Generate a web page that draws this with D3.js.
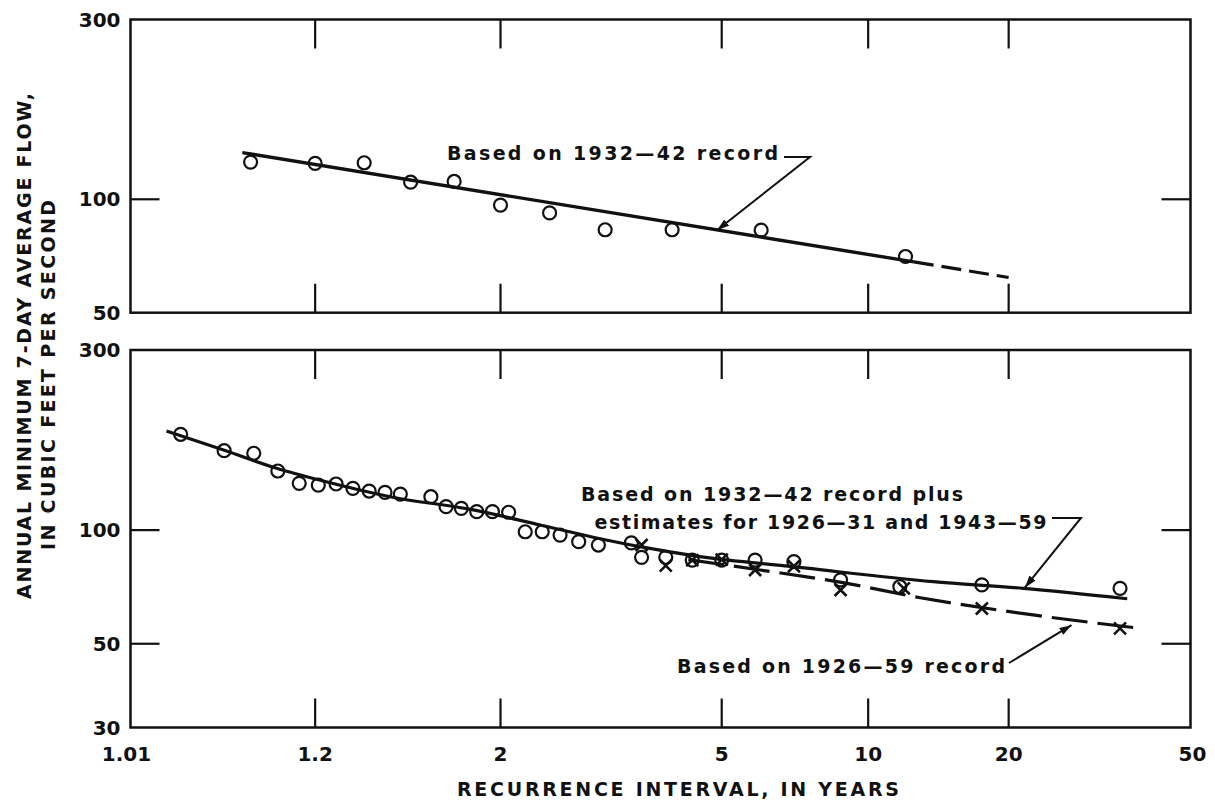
<!DOCTYPE html>
<html><head><meta charset="utf-8">
<script src="https://cdn.jsdelivr.net/npm/d3@7"></script>
<style>
html,body{margin:0;padding:0;background:#fff;}
svg{display:block;}
text{font-family:"DejaVu Sans",sans-serif;font-weight:bold;fill:#111;}
</style></head><body>
<svg id="chart" width="1215" height="802"></svg>
<script>
// ---------- DATA ----------
const xTickValues = [1.01, 1.2, 2, 5, 10, 20, 50];
const xTickLabels = ["1.01", "1.2", "2", "5", "10", "20", "50"];
const xInnerTicks = [1.2, 2, 5, 10, 20];
const topYTicks = [300, 100, 50];
const botYTicks = [300, 100, 50, 30];
const topYInner = [100];
const botYInner = [100, 50];

// Top panel: 1932-42 record
const topT = [1.09, 1.2, 1.33, 1.5, 1.71, 2, 2.4, 3, 4, 6, 12];
const topQ = [125.5, 124.5, 125, 111, 111.5, 96.5, 92, 83, 83, 82.8, 70.5];
const topFitT = [1.08, 12.5];
const topFitQ = [133, 68.2];
const topExtT = [12.5, 20];
const topExtQ = [68.2, 62];

// Bottom panel: 1932-42 record plus estimates (circles)
const botCircT = [1.029, 1.061, 1.094, 1.129, 1.167, 1.207, 1.25, 1.296, 1.346, 1.4, 1.458,
  1.591, 1.667, 1.75, 1.842, 1.944, 2.059, 2.188, 2.333, 2.5, 2.692, 2.917, 3.35, 3.5,
  3.889, 4.375, 5, 5.833, 7, 8.75, 11.67, 17.5, 35];
const botCircQ = [179.4, 162.3, 159.8, 143.4, 133, 131.6, 132.5, 129, 126.9, 125.9, 124.6,
  122.6, 115.4, 114.2, 111.9, 111.9, 111.5, 99, 99, 97, 93.2, 91.3, 92.5, 84.7,
  84.7, 83.3, 83.3, 83.3, 82.5, 73.8, 70.8, 71.6, 70.1];
// Bottom panel: 1926-59 record (crosses)
const botCrossT = [3.5, 3.889, 4.375, 5, 5.833, 7, 8.75, 11.9, 17.5, 35];
const botCrossQ = [91.3, 80.5, 83.3, 83.5, 78.4, 80.2, 69.4, 70.1, 62, 54.9];
// Fitted curves
const botFitT = [1.022, 1.0605, 1.127, 1.2186, 1.418, 1.821, 2.314, 2.94, 3.476, 4.53, 6.98, 13.75, 21.5, 36.3];
const botFitQ = [183.1, 163, 145.8, 134.9, 122.6, 113.1, 103.2, 94.9, 90.4, 85.1, 80, 73, 70.1, 65.8];
const botDashT = [4.3, 5.97, 8.73, 12.9, 22.6, 38.9];
const botDashQ = [83.5, 78.4, 72.8, 66.2, 59.6, 54.9];

// ---------- LAYOUT ----------
const plotLeft = 130.5, plotRight = 1190.5;
const topY0 = 19.5, topY1 = 312.7, botY0 = 350, botY1 = 727.5;
const tickLen = 29;
const ink = "#111";

const gumbel = T => -Math.log(-Math.log(1 - 1 / T));
const x = d3.scaleLinear().domain([gumbel(1.01), gumbel(50)]).range([plotLeft, plotRight]);
const xT = T => x(gumbel(T));
const yTop = d3.scaleLog().domain([50, 300]).range([topY1, topY0]);
const yBot = d3.scaleLog().domain([30, 300]).range([botY1, botY0]);

const svg = d3.select("#chart");
svg.append("rect").attr("width", 1215).attr("height", 802).attr("fill", "#fff");

const defs = svg.append("defs");
defs.append("marker").attr("id", "arr").attr("viewBox", "0 0 12 8")
  .attr("refX", 12).attr("refY", 4).attr("markerWidth", 12).attr("markerHeight", 8)
  .attr("markerUnits", "userSpaceOnUse").attr("orient", "auto")
  .append("path").attr("d", "M0,0 L12,4 L0,8 Z").attr("fill", ink);

function panel(y, y0, y1, yTicks, yInner) {
  const g = svg.append("g");
  g.append("rect").attr("x", plotLeft).attr("y", y0)
    .attr("width", plotRight - plotLeft).attr("height", y1 - y0)
    .attr("fill", "none").attr("stroke", ink).attr("stroke-width", 2.5);
  xInnerTicks.forEach(t => {
    g.append("line").attr("x1", xT(t)).attr("x2", xT(t)).attr("y1", y0).attr("y2", y0 + tickLen)
      .attr("stroke", ink).attr("stroke-width", 2.2);
    g.append("line").attr("x1", xT(t)).attr("x2", xT(t)).attr("y1", y1).attr("y2", y1 - tickLen)
      .attr("stroke", ink).attr("stroke-width", 2.2);
  });
  yInner.forEach(v => {
    g.append("line").attr("x1", plotLeft).attr("x2", plotLeft + tickLen).attr("y1", y(v)).attr("y2", y(v))
      .attr("stroke", ink).attr("stroke-width", 2.2);
    g.append("line").attr("x1", plotRight).attr("x2", plotRight - tickLen).attr("y1", y(v)).attr("y2", y(v))
      .attr("stroke", ink).attr("stroke-width", 2.2);
  });
  yTicks.forEach(v => {
    g.append("text").attr("x", plotLeft - 10).attr("y", y(v)).attr("dy", "0.36em")
      .attr("text-anchor", "end").attr("font-size", 20).text(v);
  });
  return g;
}

const gTop = panel(yTop, topY0, topY1, topYTicks, topYInner);
const gBot = panel(yBot, botY0, botY1, botYTicks, botYInner);

// x tick labels
xTickValues.forEach((t, i) => {
  svg.append("text").attr("x", xT(t) - (i === 0 ? 4 : (i === xTickValues.length - 1 ? -2 : 0)))
    .attr("y", 760.5).attr("text-anchor", "middle").attr("font-size", 20).text(xTickLabels[i]);
});

// axis titles
svg.append("text").attr("x", 457).attr("y", 795.5).attr("font-size", 19)
  .attr("textLength", 442).attr("lengthAdjust", "spacing")
  .text("RECURRENCE  INTERVAL, IN YEARS");
svg.append("text").attr("transform", "translate(31,346) rotate(-90)")
  .attr("text-anchor", "middle").attr("font-size", 19)
  .attr("textLength", 506).attr("lengthAdjust", "spacing")
  .text("ANNUAL MINIMUM 7-DAY AVERAGE FLOW,");
svg.append("text").attr("transform", "translate(55,375) rotate(-90)")
  .attr("text-anchor", "middle").attr("font-size", 19)
  .attr("textLength", 350).attr("lengthAdjust", "spacing")
  .text("IN CUBIC FEET PER SECOND");

// ---------- TOP PANEL MARKS ----------
const zip = (a, b) => a.map((v, i) => [v, b[i]]);
const lineTop = d3.line().x(d => xT(d[0])).y(d => yTop(d[1]));
gTop.append("path").attr("d", lineTop(zip(topFitT, topFitQ)))
  .attr("fill", "none").attr("stroke", ink).attr("stroke-width", 3.4);
gTop.append("path").attr("d", lineTop(zip(topExtT, topExtQ)))
  .attr("fill", "none").attr("stroke", ink).attr("stroke-width", 3.2)
  .attr("stroke-dasharray", "20,8");
gTop.selectAll("circle.pt").data(zip(topT, topQ)).enter().append("circle")
  .attr("cx", d => xT(d[0])).attr("cy", d => yTop(d[1])).attr("r", 6.5)
  .attr("fill", "none").attr("stroke", ink).attr("stroke-width", 2.2);

// ---------- BOTTOM PANEL MARKS ----------
const lineBot = d3.line().x(d => xT(d[0])).y(d => yBot(d[1])).curve(d3.curveMonotoneX);
gBot.append("path").attr("d", lineBot(zip(botFitT, botFitQ)))
  .attr("fill", "none").attr("stroke", ink).attr("stroke-width", 3.2);
gBot.append("path").attr("d", lineBot(zip(botDashT, botDashQ)))
  .attr("fill", "none").attr("stroke", ink).attr("stroke-width", 3.2)
  .attr("stroke-dasharray", "36,10");
gBot.selectAll("circle.pt").data(zip(botCircT, botCircQ)).enter().append("circle")
  .attr("cx", d => xT(d[0])).attr("cy", d => yBot(d[1])).attr("r", 6.5)
  .attr("fill", "none").attr("stroke", ink).attr("stroke-width", 2.2);
gBot.selectAll("path.cross").data(zip(botCrossT, botCrossQ)).enter().append("path")
  .attr("d", d => { const cx = xT(d[0]), cy = yBot(d[1]), s = 6;
    return `M${cx - s},${cy - s}L${cx + s},${cy + s}M${cx - s},${cy + s}L${cx + s},${cy - s}`; })
  .attr("stroke", ink).attr("stroke-width", 2.6).attr("fill", "none");

// ---------- ANNOTATIONS ----------
function note(txt, x0, base, len) {
  svg.append("text").attr("x", x0).attr("y", base).attr("font-size", 19)
    .attr("textLength", len).attr("lengthAdjust", "spacing").text(txt);
}
note("Based on 1932\u201442 record", 447, 159.5, 331);
note("Based on 1932\u201442 record plus", 581, 500.5, 382);
note("estimates for 1926\u201431 and 1943\u201459", 594.5, 528.5, 452);
note("Based on 1926\u201459 record", 677, 672.5, 328);

function leader(pts) {
  svg.append("path").attr("d", d3.line()(pts)).attr("fill", "none")
    .attr("stroke", ink).attr("stroke-width", 2).attr("marker-end", "url(#arr)");
}
leader([[784, 157], [810, 157], [xT(4.9), yTop(82.9)]]);
leader([[1052, 518], [1081, 518], [xT(21.7), yBot(70.5)]]);
leader([[1009, 663], [xT(27.4), yBot(56)]]);
</script></body></html>
